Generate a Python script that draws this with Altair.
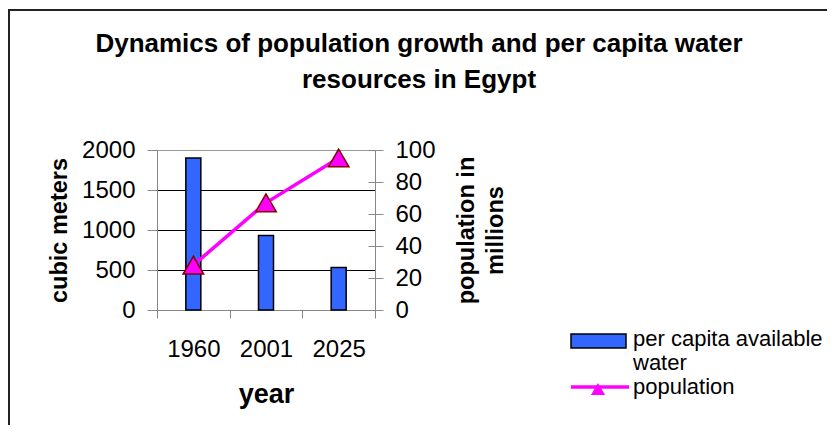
import altair as alt
import pandas as pd

# ---- data ----
years = ["1960", "2001", "2025"]
water_per_capita = [1900, 930, 530]          # cubic meters
population_millions = [28, 67, 95]           # millions
water_label = "per capita available water"
population_label = "population"
marker_label = "population markers"          # hidden label of the marker legend
left_ticks = [0, 500, 1000, 1500, 2000]
right_ticks = [0, 20, 40, 60, 80, 100]

df = pd.DataFrame({
    "year": years,
    "water": water_per_capita,
    "population": population_millions,
    "s1": [water_label] * len(years),
    "s2": [population_label] * len(years),
    "s3": [marker_label] * len(years),
})

FONT = "Liberation Sans"
BLUE = "#3366ff"
MAGENTA = "#ff00ff"
DARKRED = "#800000"
PLOT_W, PLOT_H = 218, 160

x_axis = alt.Axis(title="year", labelAngle=0, tickBand="extent", tickSize=8,
                  labelPadding=19, titlePadding=20, titleFontSize=27,
                  labelFontSize=24)
x_scale = alt.Scale(paddingInner=0, paddingOuter=0)


def x_enc():
    return alt.X("year:N", sort=years, scale=x_scale, axis=x_axis)


bars = alt.Chart(df).mark_bar(size=15, stroke="black", strokeWidth=1.5).encode(
    x=x_enc(),
    y=alt.Y("water:Q", scale=alt.Scale(domain=[0, 2000]),
            axis=alt.Axis(title="cubic meters", values=left_ticks, format="d", grid=True,
                          gridColor={"condition": {"test": "datum.value === 2000", "value": "#999999"},
                                     "value": "black"},
                          gridWidth=1, tickSize=10, labelPadding=12,
                          titlePadding=10, titleFontSize=23.5, labelFontSize=24)),
    fill=alt.Fill("s1:N", scale=alt.Scale(domain=[water_label], range=[BLUE]),
                  legend=alt.Legend(
                      title=None, orient="none", legendX=413, legendY=160,
                      padding=0, symbolType="M-1,-0.165H1V0.345H-1Z", symbolSize=3025,
                      symbolStrokeColor="black", symbolStrokeWidth=1.5,
                      symbolFillColor=BLUE, labelOffset=6,
                      labelFontSize=22, labelFont=FONT, labelColor="black",
                      labelBaseline="middle", labelLimit=400,
                      labelExpr="datum.label == 'per capita available water' ? ['per capita available', 'water'] : datum.label")),
)

line = alt.Chart(df).mark_line(strokeWidth=3.5, color=MAGENTA).encode(
    x=x_enc(),
    y=alt.Y("population:Q", scale=alt.Scale(domain=[0, 100]),
            axis=alt.Axis(orient="right", title=["population in", "millions"],
                          values=right_ticks, format="d", grid=False, tickSize=8,
                          labelPadding=12, titlePadding=14, titleAngle=270,
                          titleFontSize=23.5, labelFontSize=24, titleLineHeight=29)),
    stroke=alt.Stroke("s2:N", scale=alt.Scale(domain=[population_label], range=[MAGENTA]),
                      legend=alt.Legend(
                          title=None, orient="none", legendX=412, legendY=206,
                          padding=0, symbolType="M-1,0H1", symbolSize=3364,
                          symbolStrokeWidth=3.5, labelOffset=2,
                          labelFontSize=22, labelFont=FONT, labelColor="black",
                          labelBaseline="middle")),
)

# inner half of the right-hand ticks (they cross the axis in the reference)
points = alt.Chart(df).mark_point(
    shape="triangle-up", filled=True, fill=MAGENTA, stroke=DARKRED,
    strokeWidth=1.5, size=420, opacity=1,
).encode(
    x=x_enc(),
    y=alt.Y("population:Q", scale=alt.Scale(domain=[0, 100]),
            axis=alt.Axis(orient="left", offset=-PLOT_W, values=right_ticks,
                          labels=False, domain=False, grid=False, title=None,
                          tickSize=7)),
    shape=alt.Shape("s3:N", scale=alt.Scale(domain=[marker_label], range=["triangle-up"]),
                    legend=alt.Legend(
                        title=None, orient="none", legendX=430, legendY=228,
                        padding=0, symbolSize=200, symbolFillColor=MAGENTA,
                        symbolStrokeColor=DARKRED, symbolStrokeWidth=1.5,
                        labelExpr="''", labelFontSize=22)),
)

frame = alt.Chart(pd.DataFrame({"f": [0]})).mark_rect(
    filled=False, stroke="#222222", strokeWidth=2
).encode(x=alt.value(-148), x2=alt.value(1000), y=alt.value(-140), y2=alt.value(1000))

chart = alt.layer(frame, bars, line, points).resolve_scale(
    y="independent"
).properties(
    width=PLOT_W, height=PLOT_H,
    autosize=alt.AutoSizeParams(type="none"),
    padding={"left": 149, "top": 142, "right": 452, "bottom": 115},
    title=alt.TitleParams(
        text=["Dynamics of population growth and per capita water", "resources in Egypt"],
        fontSize=26, fontWeight="bold", font=FONT, color="black",
        anchor="middle", dx=153, dy=110, offset=0, lineHeight=36, baseline="bottom"),
).configure_view(stroke=None).configure_axis(
    labelFont=FONT, titleFont=FONT, labelColor="black", titleColor="black",
    titleFontWeight="bold", domainColor="#222222", domainWidth=1.5,
    tickColor="black", tickWidth=1,
).configure(background="white")

chart.save("out.html", embed_options={"renderer": "svg", "actions": False})
